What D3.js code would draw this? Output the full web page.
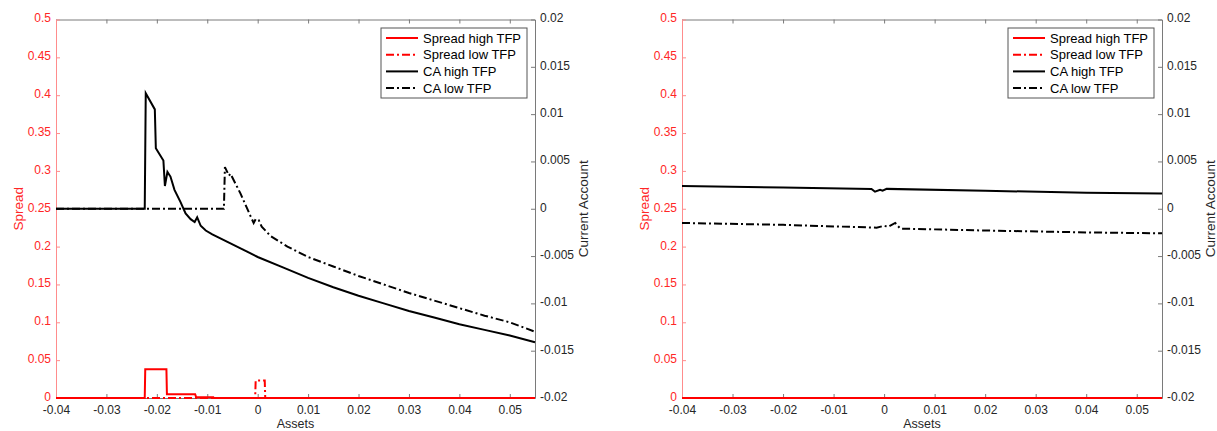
<!DOCTYPE html>
<html>
<head>
<meta charset="utf-8">
<script src="https://cdn.jsdelivr.net/npm/d3@7"></script>
<style>
body { margin: 0; background: #fff; }
text { font-family: "Liberation Sans", Arial, Helvetica, sans-serif; }
</style>
</head>
<body>
<svg id="chart" width="1217" height="431"></svg>
<script>
// ticks
var xTicks = [-0.04, -0.03, -0.02, -0.01, 0, 0.01, 0.02, 0.03, 0.04, 0.05];
var spreadTicks = [0, 0.05, 0.1, 0.15, 0.2, 0.25, 0.3, 0.35, 0.4, 0.45, 0.5];
var caTicks = [-0.02, -0.015, -0.01, -0.005, 0, 0.005, 0.01, 0.015, 0.02];
var legendLabels = ["Spread high TFP", "Spread low TFP", "CA high TFP", "CA low TFP"];

// left panel  [assets, value]
var leftSpreadHigh = [[-0.04, 0], [-0.0224, 0], [-0.0223, 0.038], [-0.0181, 0.038], [-0.018, 0.005],
  [-0.0124, 0.005], [-0.0122, 0.001], [-0.0088, 0.001], [-0.0087, 0], [0.055, 0]];
var leftSpreadLow = [[-0.04, 0], [-0.0005, 0], [-0.0004, 0.023], [0.0014, 0.023], [0.0015, 0], [0.055, 0]];
var leftCaHigh = [[-0.04, 0], [-0.0224, 0], [-0.0222, 0.0122], [-0.0204, 0.0105], [-0.0202, 0.0064],
  [-0.0187, 0.0051], [-0.0184, 0.0024], [-0.0179, 0.0039], [-0.0173, 0.0034], [-0.0165, 0.002],
  [-0.0153, 0.0007], [-0.0143, -0.0005], [-0.0133, -0.0011], [-0.0125, -0.0014], [-0.012, -0.0009],
  [-0.0113, -0.0018], [-0.0103, -0.0023], [-0.009, -0.0027], [-0.0075, -0.0031], [-0.006, -0.0035],
  [-0.0045, -0.0039], [-0.003, -0.0043], [-0.0015, -0.0047], [0, -0.0051], [0.005, -0.0062],
  [0.01, -0.0073], [0.015, -0.0083], [0.02, -0.0092], [0.025, -0.01], [0.03, -0.0108], [0.035, -0.0115],
  [0.04, -0.0122], [0.045, -0.0128], [0.05, -0.0134], [0.055, -0.0141]];
var leftCaLow = [[-0.04, 0], [-0.0067, 0], [-0.0065, 0.0044], [-0.0057, 0.0035], [-0.0054, 0.0037],
  [-0.0034, 0.0016], [-0.0014, -0.0008], [-0.0008, -0.0015], [-0.0004, -0.0011], [0.0002, -0.0012],
  [0.0008, -0.0019], [0.0026, -0.0029], [0.0059, -0.004], [0.01, -0.0051], [0.015, -0.0061],
  [0.02, -0.0071], [0.025, -0.008], [0.03, -0.0089], [0.035, -0.0097], [0.04, -0.0105],
  [0.045, -0.0113], [0.05, -0.012], [0.055, -0.013]];

// right panel
var rightSpreadHigh = [[-0.04, 0], [0.055, 0]];
var rightSpreadLow = [[-0.04, 0], [0.055, 0]];
var rightCaHigh = [[-0.04, 0.0024], [-0.02, 0.00225], [-0.0025, 0.0021], [-0.0018, 0.0018],
  [-0.0008, 0.002], [-0.0003, 0.0019], [0.0005, 0.0021], [0.02, 0.0019], [0.04, 0.0017], [0.055, 0.0016]];
var rightCaLow = [[-0.04, -0.0015], [-0.02, -0.0017], [-0.0015, -0.002], [0, -0.0018], [0.0008, -0.0019],
  [0.0022, -0.0015], [0.0032, -0.0021], [0.02, -0.0023], [0.04, -0.0025], [0.055, -0.0026]];

var svg = d3.select("#chart");
var plotTop = 19.5, plotBottom = 398;
var dashDot = "8,3,2,3";
var red = "#ff0000";

function fmt(d) { return String(+d.toFixed(4)); }

function drawPanel(left, right, spreadHigh, spreadLow, caHigh, caLow) {
  var x = d3.scaleLinear().domain([-0.04, 0.055]).range([left, right]);
  var yS = d3.scaleLinear().domain([0, 0.5]).range([plotBottom, plotTop]);
  var yC = d3.scaleLinear().domain([-0.02, 0.02]).range([plotBottom, plotTop]);
  var g = svg.append("g");

  // top edge
  var topAx = g.append("g").attr("transform", "translate(0," + plotTop + ")")
    .call(d3.axisTop(x).tickValues(xTicks).tickSize(-4).tickSizeOuter(0).tickFormat(""));
  topAx.selectAll("path,line").attr("stroke", "#7a7a7a");

  var bot = g.append("g").attr("transform", "translate(0," + plotBottom + ")")
    .call(d3.axisBottom(x).tickValues(xTicks).tickSize(-4).tickSizeOuter(0).tickPadding(7.5).tickFormat(fmt));
  bot.selectAll("path,line").attr("stroke", "#7a7a7a");
  bot.selectAll("text").attr("fill", "#262626").style("font-size", "12px");

  var la = g.append("g").attr("transform", "translate(" + left + ",0)")
    .call(d3.axisLeft(yS).tickValues(spreadTicks).tickSize(-4).tickSizeOuter(0).tickPadding(5).tickFormat(fmt));
  la.selectAll("path,line").attr("stroke", "#ff8c8c");
  la.selectAll("text").attr("fill", "#ff2626").attr("dy", "0.2em").style("font-size", "12px");

  var ra = g.append("g").attr("transform", "translate(" + right + ",0)")
    .call(d3.axisRight(yC).tickValues(caTicks).tickSize(-4).tickSizeOuter(0).tickPadding(5).tickFormat(fmt));
  ra.selectAll("path,line").attr("stroke", "#7a7a7a");
  ra.selectAll("text").attr("fill", "#262626").attr("dy", "0.2em").style("font-size", "12px");

  var lineS = d3.line().x(function(d){ return x(d[0]); }).y(function(d){ return yS(d[1]); });
  var lineC = d3.line().x(function(d){ return x(d[0]); }).y(function(d){ return yC(d[1]); });

  g.append("path").attr("d", lineS(spreadHigh)).attr("fill", "none").attr("stroke", red).attr("stroke-width", 2);
  g.append("path").attr("d", lineS(spreadLow)).attr("fill", "none").attr("stroke", red).attr("stroke-width", 2)
    .attr("stroke-dasharray", dashDot);
  g.append("path").attr("d", lineC(caHigh)).attr("fill", "none").attr("stroke", "#000").attr("stroke-width", 2);
  g.append("path").attr("d", lineC(caLow)).attr("fill", "none").attr("stroke", "#000").attr("stroke-width", 2)
    .attr("stroke-dasharray", dashDot);

  // axis labels
  var midY = (plotTop + plotBottom) / 2;
  g.append("text").attr("transform", "translate(" + (left - 38) + "," + midY + ") rotate(-90)")
    .attr("text-anchor", "middle").attr("dy", "0.35em").attr("fill", "#ff2626")
    .style("font-size", "13.5px").text("Spread");
  g.append("text").attr("transform", "translate(" + (right + 48) + "," + midY + ") rotate(-90)")
    .attr("text-anchor", "middle").attr("dy", "0.35em").attr("fill", "#262626")
    .style("font-size", "13.5px").text("Current Account");
  g.append("text").attr("x", (left + right) / 2).attr("y", 428)
    .attr("text-anchor", "middle").attr("fill", "#262626")
    .style("font-size", "12.5px").text("Assets");

  // legend
  var lg = g.append("g").attr("transform", "translate(" + (right - 154) + ",28)");
  lg.append("rect").attr("width", 146).attr("height", 70).attr("fill", "#fff").attr("stroke", "#555").attr("stroke-width", 1);
  var colors = [red, red, "#000", "#000"];
  var dashes = [null, dashDot, null, dashDot];
  legendLabels.forEach(function(lab, i) {
    var yy = 10 + i * 16.7;
    lg.append("line").attr("x1", 5).attr("x2", 37).attr("y1", yy).attr("y2", yy)
      .attr("stroke", colors[i]).attr("stroke-width", 2).attr("stroke-dasharray", dashes[i]);
    lg.append("text").attr("x", 42).attr("y", yy).attr("dy", "0.35em")
      .attr("fill", "#000").style("font-size", "13px").text(lab);
  });
}

drawPanel(56, 535, leftSpreadHigh, leftSpreadLow, leftCaHigh, leftCaLow);
drawPanel(682, 1162, rightSpreadHigh, rightSpreadLow, rightCaHigh, rightCaLow);
</script>
</body>
</html>
